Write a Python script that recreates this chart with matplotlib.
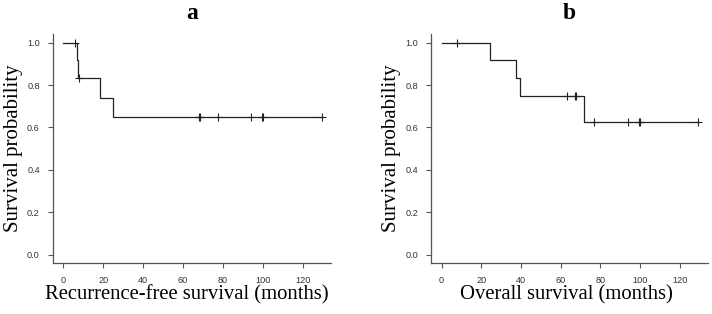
import matplotlib.pyplot as plt
import numpy as np

# recurrence-free survival: time (months), event (1 = recurrence, 0 = censored)
rfs_time = [5.7, 6.7, 7.2, 7.9, 18.3, 25.0, 68.0, 68.7, 77.6, 94.0, 99.8, 100.3, 129.5]
rfs_event = [0, 1, 1, 0, 1, 1, 0, 0, 0, 0, 0, 0, 0]

# overall survival
os_time = [7.9, 24.5, 37.4, 39.6, 63.3, 67.2, 68.0, 71.8, 77.0, 93.8, 99.3, 99.8, 129.2]
os_event = [0, 1, 1, 1, 0, 0, 0, 1, 0, 0, 0, 0, 0]

x_ticks = [0, 20, 40, 60, 80, 100, 120]
y_ticks = [0.0, 0.2, 0.4, 0.6, 0.8, 1.0]


def kaplan_meier(time, event):
    time = np.array(time)
    event = np.array(event)
    order = np.argsort(time)
    time = time[order]
    event = event[order]
    at_risk = len(time)
    s = 1.0
    step_t = [0.0]
    step_s = [1.0]
    cens_t = []
    cens_s = []
    for t, e in zip(time, event):
        if e == 1:
            s = s * (at_risk - 1) / at_risk
            step_t.append(t)
            step_s.append(s)
        else:
            cens_t.append(t)
            cens_s.append(s)
        at_risk -= 1
    step_t.append(time.max())
    step_s.append(s)
    return step_t, step_s, cens_t, cens_s


def draw_km(ax, time, event, xlabel, title, label_x):
    st, ss, ct, cs = kaplan_meier(time, event)
    ax.step(st, ss, where='post', color='#222222', lw=0.9)
    ax.plot(ct, cs, '+', color='#222222', ms=6, mew=0.8)
    ax.set_xlim(-5.2, 134.2)
    ax.set_ylim(-0.04, 1.04)
    ax.set_xticks(x_ticks)
    ax.set_yticks(y_ticks)
    ax.set_yticklabels([f"{v:.1f}" for v in y_ticks])
    for side in ['top', 'right']:
        ax.spines[side].set_visible(False)
    for side in ['left', 'bottom']:
        ax.spines[side].set_color('#555555')
        ax.spines[side].set_linewidth(0.9)
    ax.tick_params(colors='#555555', labelcolor='#333333', labelsize=6.6,
                   length=3.5, width=0.8, pad=6)
    for lab in ax.get_xticklabels() + ax.get_yticklabels():
        lab.set_family('Liberation Sans')
    ax.set_xlabel(xlabel, family='Liberation Serif', fontsize=14.9, labelpad=0)
    ax.xaxis.label.set_x(label_x)
    ax.set_ylabel('Survival probability', family='Liberation Serif', fontsize=15, labelpad=3)
    ax.set_title(title, family='Liberation Serif', fontweight='bold', fontsize=17, pad=11)


fig = plt.figure(figsize=(7.12, 3.14), dpi=100)
ax1 = fig.add_axes([0.0744, 0.1624, 0.3906, 0.7286])
ax2 = fig.add_axes([0.6058, 0.1624, 0.3882, 0.7286])

draw_km(ax1, rfs_time, rfs_event, 'Recurrence-free survival (months)', 'a', 0.482)
draw_km(ax2, os_time, os_event, 'Overall survival (months)', 'b', 0.489)

fig.savefig('out.png', dpi=100)
